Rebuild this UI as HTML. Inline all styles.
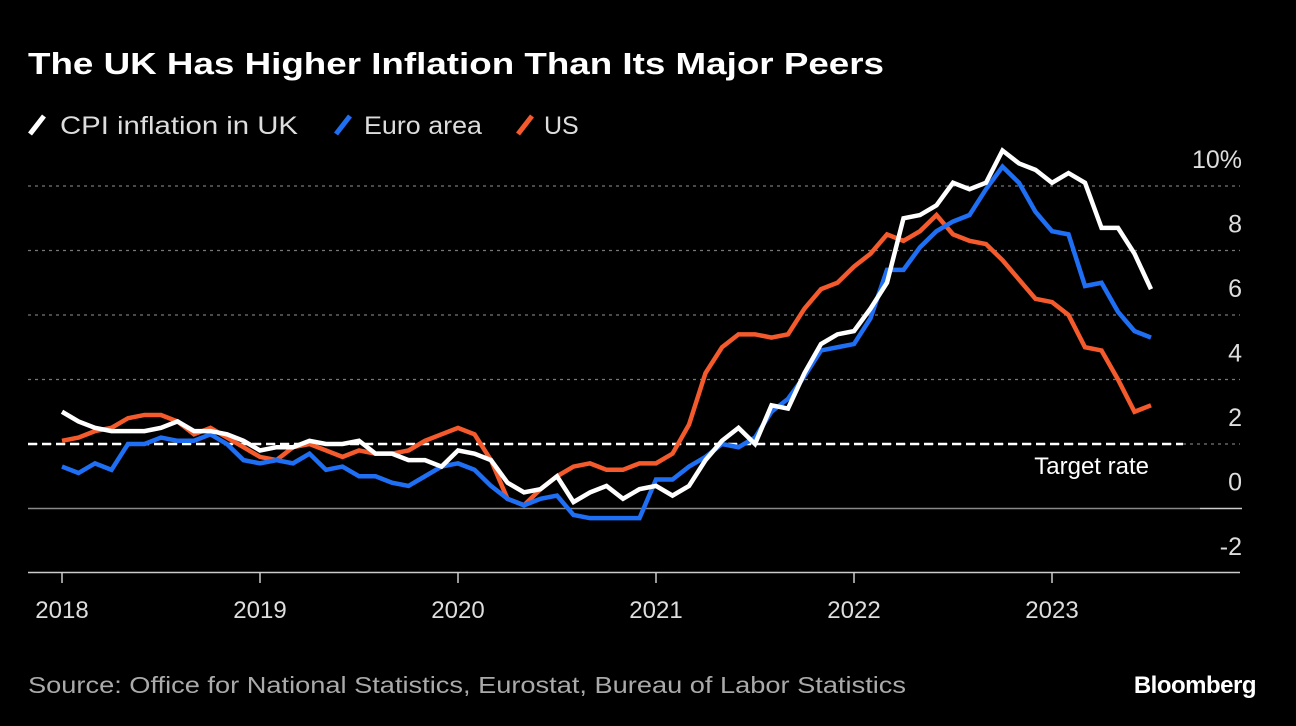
<!DOCTYPE html>
<html><head><meta charset="utf-8"><style>
body{margin:0;background:#000;width:1296px;height:726px;overflow:hidden;font-family:"Liberation Sans",sans-serif;color:#fff}
</style></head><body>
<svg width="1296" height="726" style="position:absolute;left:0;top:0">
<text x="28" y="74" font-size="31" font-weight="bold" fill="#fff" textLength="856" lengthAdjust="spacingAndGlyphs">The UK Has Higher Inflation Than Its Major Peers</text>
<g font-size="25" fill="#ddd">
<line x1="30" y1="134" x2="44" y2="116" stroke="#fff" stroke-width="5"/>
<text x="60" y="134" textLength="238" lengthAdjust="spacingAndGlyphs">CPI inflation in UK</text>
<line x1="336" y1="134" x2="350" y2="116" stroke="#1f6ff5" stroke-width="5"/>
<text x="364" y="134" textLength="118" lengthAdjust="spacingAndGlyphs">Euro area</text>
<line x1="518" y1="134" x2="532" y2="116" stroke="#f45a2c" stroke-width="5"/>
<text x="544" y="134">US</text>
</g>
<g id="grid"></g><g id="series"></g><g id="xaxis"></g>
<text x="28" y="693" font-size="23" fill="#aaa" textLength="878" lengthAdjust="spacingAndGlyphs">Source: Office for National Statistics, Eurostat, Bureau of Labor Statistics</text>
<text x="1256" y="693" font-size="24" font-weight="bold" fill="#fff" text-anchor="end" letter-spacing="-0.5">Bloomberg</text>
</svg>
<script>
const yTicks=[10,8,6,4,2,0,-2];
const yTickLabels=["10%","8","6","4","2","0","-2"];
const years=[2018,2019,2020,2021,2022,2023];
const targetRate=[2];
const uk=[3.0,2.7,2.5,2.4,2.4,2.4,2.5,2.7,2.4,2.4,2.3,2.1,1.8,1.9,1.9,2.1,2.0,2.0,2.1,1.7,1.7,1.5,1.5,1.3,1.8,1.7,1.5,0.8,0.5,0.6,1.0,0.2,0.5,0.7,0.3,0.6,0.7,0.4,0.7,1.5,2.1,2.5,2.0,3.2,3.1,4.2,5.1,5.4,5.5,6.2,7.0,9.0,9.1,9.4,10.1,9.9,10.1,11.1,10.7,10.5,10.1,10.4,10.1,8.7,8.7,7.9,6.8];
const euro=[1.3,1.1,1.4,1.2,2.0,2.0,2.2,2.1,2.1,2.3,2.0,1.5,1.4,1.5,1.4,1.7,1.2,1.3,1.0,1.0,0.8,0.7,1.0,1.3,1.4,1.2,0.7,0.3,0.1,0.3,0.4,-0.2,-0.3,-0.3,-0.3,-0.3,0.9,0.9,1.3,1.6,2.0,1.9,2.2,3.0,3.4,4.1,4.9,5.0,5.1,5.9,7.4,7.4,8.1,8.6,8.9,9.1,9.9,10.6,10.1,9.2,8.6,8.5,6.9,7.0,6.1,5.5,5.3];
const us=[2.1,2.2,2.4,2.5,2.8,2.9,2.9,2.7,2.3,2.5,2.2,1.9,1.6,1.5,1.9,2.0,1.8,1.6,1.8,1.7,1.7,1.8,2.1,2.3,2.5,2.3,1.5,0.3,0.1,0.6,1.0,1.3,1.4,1.2,1.2,1.4,1.4,1.7,2.6,4.2,5.0,5.4,5.4,5.3,5.4,6.2,6.8,7.0,7.5,7.9,8.5,8.3,8.6,9.1,8.5,8.3,8.2,7.7,7.1,6.5,6.4,6.0,5.0,4.9,4.0,3.0,3.2];
const NS='http://www.w3.org/2000/svg';
const y=v=>508.5-v*32.25;
const x=i=>62+i*16.5;
const yx=yr=>x((yr-2018)*12);
function mk(t,a,p){const e=document.createElementNS(NS,t);for(const k in a)e.setAttribute(k,a[k]);p.appendChild(e);return e;}
const grid=document.getElementById('grid');
yTicks.forEach((v,i)=>{
  if(v>0){const l=mk('line',{x1:28,x2:1240,y1:y(v),y2:y(v),stroke:'#777','stroke-width':1.3,'stroke-dasharray':'3 4'},grid);
  
  }
  const t=mk('text',{x:1242,y:y(v)-18,'font-size':25,fill:'#ddd','text-anchor':'end'},grid);
  
  
  t.textContent=yTickLabels[i];
});
const z=mk('line',{x1:28,x2:1200,y1:y(0),y2:y(0),stroke:'#888','stroke-width':1.5},grid);


const z2=mk('line',{x1:1200,x2:1242,y1:y(0),y2:y(0),stroke:'#ccc','stroke-width':1.5},grid);


const tl=mk('line',{x1:28,x2:1183,y1:y(targetRate[0]),y2:y(targetRate[0]),stroke:'#fff','stroke-width':2.5,'stroke-dasharray':'9 5'},grid);


const tt=mk('text',{x:1149,y:y(targetRate[0])+30,'font-size':24,fill:'#fff','text-anchor':'end'},grid);


tt.textContent='Target rate';
const ser=document.getElementById('series');
[[us,'#f45a2c','us-line'],[euro,'#1f6ff5','euro-line'],[uk,'#fff','uk-line']].forEach(([d,c,n])=>{
  const p=mk('polyline',{points:d.map((v,i)=>x(i)+','+y(v)).join(' '),fill:'none',stroke:c,'stroke-width':4.5,'stroke-linejoin':'miter'},ser);
  
  
});
const xa=document.getElementById('xaxis');
const ax=mk('line',{x1:28,x2:1240,y1:572.5,y2:572.5,stroke:'#ccc','stroke-width':1.5},xa);


years.forEach(yr=>{
  const t=mk('line',{x1:yx(yr),x2:yx(yr),y1:572,y2:583,stroke:'#ccc','stroke-width':1.5},xa);
  
  
  const l=mk('text',{x:yx(yr),y:618,'font-size':24,fill:'#ddd','text-anchor':'middle'},xa);
  
  
  l.textContent=yr;
});
</script>
</body></html>
